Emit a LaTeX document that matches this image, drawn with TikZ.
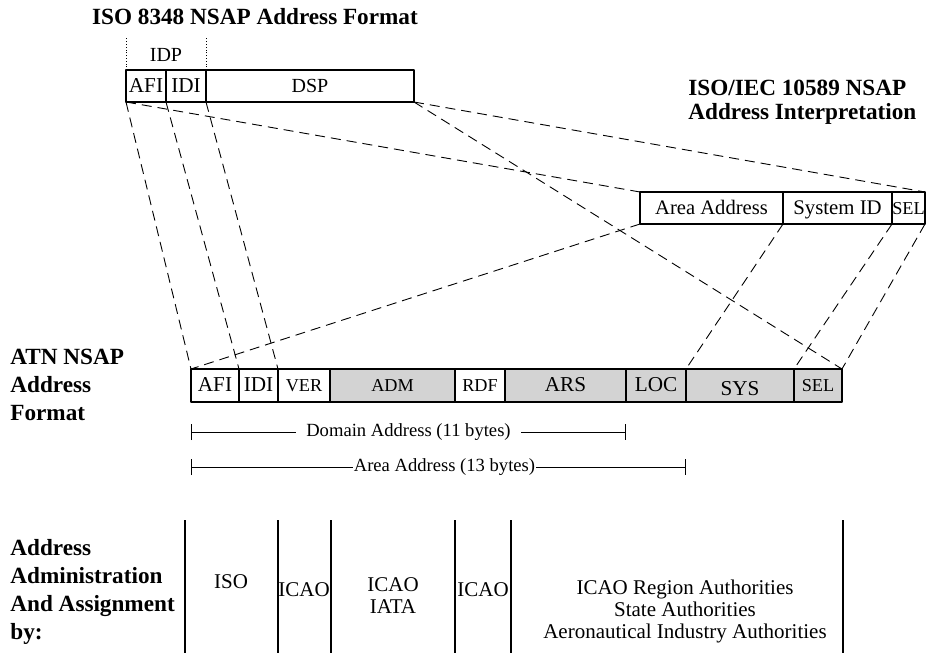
\documentclass[tikz,border=0pt]{standalone}
\usepackage{fontspec}
\setmainfont{Liberation Serif}
\usetikzlibrary{positioning,arrows.meta}
\definecolor{fieldgray}{HTML}{D3D3D3}
\begin{document}
\begin{tikzpicture}[x=0.5pt, y=-0.5pt, line join=round,
  fld/.style={draw, line width=0.6pt, inner sep=0pt, outer sep=0pt, minimum height=16pt, text height=8pt, text depth=2pt, font=\fontsize{10.6}{12}\selectfont},
  sm/.style={font=\fontsize{9.1}{10}\selectfont},
  shd/.style={fill=fieldgray},
  hd/.style={font=\fontsize{11.6}{14}\selectfont\bfseries, align=left, inner sep=0pt},
  map/.style={dash pattern=on 5pt off 3pt, line width=0.45pt},
  span/.style={{Bar[width=8pt]}-{Bar[width=8pt]}, line width=0.5pt},
  who/.style={font=\fontsize{10.5}{11}\selectfont, align=center, inner sep=0pt}]
	\useasboundingbox (0,0) rectangle (926,653);
	% ISO 8348 NSAP address
	\node[hd] (t1) at (255,17) {ISO 8348 NSAP Address Format};
	\node[fld, minimum width=20pt, anchor=north west] (iafi) at (126,70) {AFI};
	\node[fld, minimum width=20pt, right=0pt of iafi] (iidi) {IDI};
	\node[fld, minimum width=104pt, right=0pt of iidi, font=\fontsize{10}{12}\selectfont] (idsp) {DSP};
	\node[font=\fontsize{10}{12}\selectfont] (idp) at (166,55) {IDP};
	\draw[densely dotted] (iafi.north west) -- ++(0,-32);
	\draw[densely dotted] (idsp.north west) -- ++(0,-32);
	% ISO/IEC 10589 interpretation
	\node[hd, anchor=west, font=\fontsize{11.6}{12}\selectfont\bfseries] (t2) at (688,102) {ISO/IEC 10589 NSAP\\Address Interpretation};
	\node[fld, minimum width=71.5pt, anchor=north west, font=\fontsize{10.3}{12}\selectfont] (area) at (640,192) {Area Address};
	\node[fld, minimum width=54.5pt, right=0pt of area, font=\fontsize{10.4}{12}\selectfont] (sysid) {System ID};
	\node[fld, sm, minimum width=16.5pt, right=0pt of sysid] (isel) {SEL};
	% ATN NSAP address
	\node[hd, anchor=west] (t3) at (10,385) {ATN NSAP\\Address\\Format};
	\node[fld, minimum width=24pt, minimum height=16.5pt, anchor=north west] (afi) at (191,369) {AFI};
	\node[fld, minimum width=19.5pt, minimum height=16.5pt, right=0pt of afi] (idi) {IDI};
	\node[fld, sm, minimum width=26pt, minimum height=16.5pt, right=0pt of idi] (ver) {VER};
	\node[fld, sm, shd, minimum width=62.5pt, minimum height=16.5pt, right=0pt of ver] (adm) {ADM};
	\node[fld, sm, minimum width=25pt, minimum height=16.5pt, right=0pt of adm] (rdf) {RDF};
	\node[fld, shd, minimum width=60.5pt, minimum height=16.5pt, right=0pt of rdf] (ars) {ARS};
	\node[fld, shd, minimum width=30pt, minimum height=16.5pt, right=0pt of ars] (loc) {LOC};
	\node[fld, shd, minimum width=54pt, minimum height=16.5pt, right=0pt of loc, text height=12pt, text depth=2pt] (sys) {SYS};
	\node[fld, sm, shd, minimum width=24pt, minimum height=16.5pt, right=0pt of sys] (sel) {SEL};
	% mappings
	\draw[map] (iafi.south west) -- (afi.north west);
	\draw[map] (iafi.south east) -- (idi.north west);
	\draw[map] (idsp.south west) -- (ver.north west);
	\draw[map] (iafi.south west) -- (area.north west);
	\draw[map] (idsp.south east) -- (isel.north east);
	\draw[map] (idsp.south east) -- (sel.north east);
	\draw[map] (area.south west) -- (afi.north west);
	\draw[map] (area.south east) -- (sys.north west);
	\draw[map] (sysid.south east) -- (sel.north west);
	\draw[map] (isel.south east) -- (sel.north east);
	% spans
	\draw[span] ([yshift=-15pt]afi.south west) -- node[fill=white, inner xsep=5pt, font=\fontsize{9.3}{11}\selectfont] (dom) {Domain Address (11 bytes)} ([yshift=-15pt]loc.south west);
	\draw[span] ([yshift=-32.5pt]afi.south west) -- node[fill=white, inner xsep=0.5pt, font=\fontsize{9.3}{11}\selectfont, xshift=3pt] (aa) {Area Address (13 bytes)} ([yshift=-32.5pt]sys.south west);
	% administration
	\node[hd, anchor=west] (t4) at (10,592) {Address\\Administration\\And Assignment\\by:};
	\foreach \x in {185,278,331,455,511,843}
		\draw[line width=0.6pt] (\x,520) -- (\x,653);
	\node[who] (iso) at (231,582) {ISO};
	\node[who] (icao1) at (304,590) {ICAO};
	\node[who] (icao2) at (393,596) {ICAO\\IATA};
	\node[who] (icao3) at (483,590) {ICAO};
	\node[who] (auth) at (685,611) {ICAO Region Authorities\\State Authorities\\Aeronautical Industry Authorities};
\end{tikzpicture}
\end{document}
